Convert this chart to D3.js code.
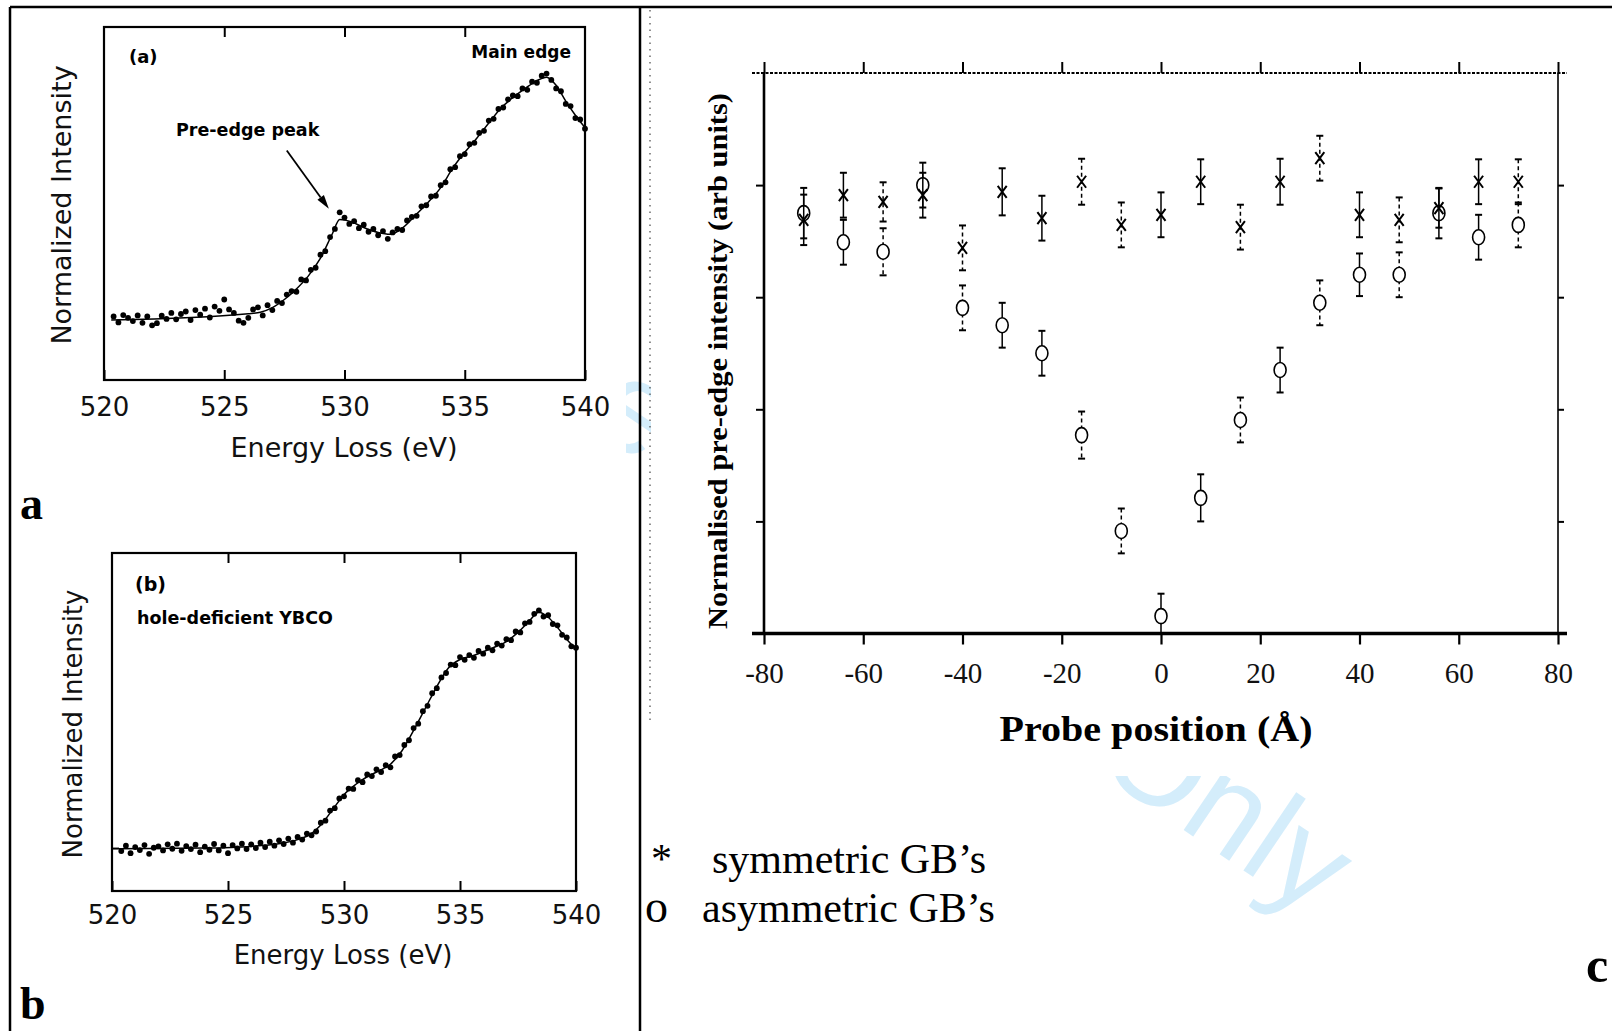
<!DOCTYPE html>
<html>
<head>
<meta charset="utf-8">
<script src="https://cdn.jsdelivr.net/npm/d3@7"></script>
<style>
  body { margin: 0; background: #fff; }
  svg { display: block; }
</style>
</head>
<body>
<svg id="fig" width="1612" height="1031"></svg>
<script>
// ---- EELS spectra (panels a and b), sampled every 0.2 eV ----
const energy = [
  520.4,520.6,520.8,521.0,521.2,521.4,521.6,521.8,522.0,522.2,
  522.4,522.6,522.8,523.0,523.2,523.4,523.6,523.8,524.0,524.2,
  524.4,524.6,524.8,525.0,525.2,525.4,525.6,525.8,526.0,526.2,
  526.4,526.6,526.8,527.0,527.2,527.4,527.6,527.8,528.0,528.2,
  528.4,528.6,528.8,529.0,529.2,529.4,529.6,529.8,530.0,530.2,
  530.4,530.6,530.8,531.0,531.2,531.4,531.6,531.8,532.0,532.2,
  532.4,532.6,532.8,533.0,533.2,533.4,533.6,533.8,534.0,534.2,
  534.4,534.6,534.8,535.0,535.2,535.4,535.6,535.8,536.0,536.2,
  536.4,536.6,536.8,537.0,537.2,537.4,537.6,537.8,538.0,538.2,
  538.4,538.6,538.8,539.0,539.2,539.4,539.6,539.8,540.0
];
const intensityA = [
  .180,.163,.184,.176,.167,.183,.162,.180,.155,.161,
  .182,.173,.190,.172,.187,.194,.170,.198,.185,.202,
  .177,.208,.196,.228,.200,.190,.168,.162,.176,.200,
  .206,.183,.212,.198,.224,.218,.242,.252,.250,.285,
  .282,.312,.318,.355,.365,.405,.428,.475,.460,.442,
  .450,.430,.440,.420,.428,.410,.422,.400,.418,.428,
  .425,.452,.462,.465,.492,.495,.520,.522,.552,.560,
  .597,.603,.634,.640,.668,.672,.700,.706,.735,.740,
  .768,.772,.795,.806,.804,.826,.822,.845,.842,.862,
  .868,.850,.826,.818,.782,.776,.742,.738,.712
];
const intensityB = [
  .118,.134,.112,.130,.121,.136,.110,.128,.132,.120,
  .138,.125,.140,.119,.133,.124,.137,.115,.131,.122,
  .139,.120,.134,.112,.136,.126,.140,.124,.138,.127,
  .143,.130,.146,.134,.150,.139,.155,.143,.160,.152,
  .170,.165,.176,.202,.208,.238,.245,.274,.280,.303,
  .302,.328,.322,.345,.340,.360,.352,.372,.366,.398,
  .402,.432,.446,.482,.495,.532,.548,.585,.600,.632,
  .645,.670,.668,.692,.684,.698,.690,.710,.702,.720,
  .712,.732,.726,.745,.742,.768,.765,.792,.796,.820,
  .830,.812,.816,.790,.786,.758,.750,.724,.720
];
// smooth fitted curves
const fitEnergyA = [520.3,526,526.5,527,527.5,528,528.5,529,529.5,529.8,530.3,530.8,531.4,531.9,532.4,533,533.5,534,534.5,535,535.5,536,536.5,537,537.5,538,538.4,538.8,539.2,539.6,540];
const fitA = [.170,.188,.192,.205,.228,.258,.295,.345,.415,.455,.448,.432,.418,.413,.430,.470,.505,.545,.600,.645,.685,.728,.770,.800,.825,.848,.858,.835,.790,.750,.715];
const fitEnergyB = [520.3,524,526,527,528,528.6,529,529.5,530,530.5,531,531.5,532,532.5,533,533.5,534,534.5,535,535.5,536,536.5,537,537.5,538,538.4,538.8,539.2,539.6,540];
const fitB = [.125,.127,.132,.138,.152,.170,.195,.240,.285,.315,.338,.355,.375,.415,.475,.540,.605,.660,.685,.695,.708,.722,.738,.765,.800,.825,.810,.780,.745,.715];
const energyTicks = [520, 525, 530, 535, 540];
const energyInnerTicks = [525, 530, 535];
const baselineTickB = [0.127];
const preEdgeArrow = { from: [527.6, 0.65], to: [529.35, 0.485] };

// ---- panel c: pre-edge intensity across the grain boundary ----
const probePos = [-72,-64,-56,-48,-40,-32,-24,-16,-8,0,8,16,24,32,40,48,56,64,72];
const symVal  = [.738,.782,.770,.782,.688,.788,.741,.806,.729,.747,.806,.725,.806,.848,.747,.738,.759,.806,.806];
const symErr  = [.045,.040,.035,.040,.040,.042,.040,.041,.040,.040,.040,.040,.041,.040,.040,.040,.035,.040,.040];
const asymVal = [.750,.698,.681,.800,.581,.550,.500,.354,.183,.031,.242,.381,.470,.590,.640,.640,.750,.707,.729];
const asymErr = [.045,.040,.042,.040,.040,.040,.040,.042,.040,.040,.042,.040,.040,.040,.038,.040,.045,.040,.040];
const dashedBar = [0,0,1,0,1,0,0,1,1,0,0,1,0,1,0,1,0,0,1];
const probeTicks = [-80,-60,-40,-20,0,20,40,60,80];
const intensityTicks = [0.2, 0.4, 0.6, 0.8];

const svg = d3.select("#fig");
const SANS = "DejaVu Sans, sans-serif";
const SERIF = "Liberation Serif, Times New Roman, serif";

// watermark, mostly hidden behind the panel images
svg.append("text")
  .attr("transform", "translate(1314,918) rotate(34)")
  .attr("text-anchor", "end")
  .attr("font-family", "Liberation Sans, Arial, sans-serif")
  .attr("font-size", 130)
  .attr("fill", "#d4edfb")
  .text("For Peer Review Only");

// opaque image areas
[[12, 9, 614, 1022], [651, 9, 961, 767]].forEach(r => {
  svg.append("rect").attr("x", r[0]).attr("y", r[1]).attr("width", r[2]).attr("height", r[3]).attr("fill", "#fff");
});

// frame
svg.append("line").attr("x1", 10).attr("x2", 1612).attr("y1", 7).attr("y2", 7).attr("stroke", "#000").attr("stroke-width", 2.5);
svg.append("line").attr("x1", 10).attr("x2", 10).attr("y1", 7).attr("y2", 1031).attr("stroke", "#000").attr("stroke-width", 2.5);
svg.append("line").attr("x1", 640).attr("x2", 640).attr("y1", 7).attr("y2", 1031).attr("stroke", "#000").attr("stroke-width", 2.5);
svg.append("line").attr("x1", 650).attr("x2", 650).attr("y1", 10).attr("y2", 722)
  .attr("stroke", "#555").attr("stroke-width", 1.3).attr("stroke-dasharray", "1.5,5");

// ---------- spectrum panels ----------
function spectrumPanel(x, y, vals, fitE, fitV, leftTicks, pad) {
  const g = svg.append("g");
  const [x0, x1] = x.range();
  const [yb, yt] = y.range();

  const bottom = g.append("g").attr("transform", `translate(0,${yb})`)
    .call(d3.axisBottom(x).tickValues(energyTicks).tickSizeInner(-10).tickSizeOuter(0)
      .tickPadding(pad).tickFormat(d3.format("d")));
  bottom.select(".domain").remove();
  bottom.selectAll("line").attr("stroke-width", 2);
  bottom.selectAll("text").attr("font-family", SANS).attr("font-size", 26).attr("fill", "#111");

  const top = g.append("g").attr("transform", `translate(0,${yt})`)
    .call(d3.axisTop(x).tickValues(energyInnerTicks).tickSizeInner(-10).tickSizeOuter(0).tickFormat(""));
  top.select(".domain").remove();
  top.selectAll("line").attr("stroke-width", 2);

  if (leftTicks) {
    const left = g.append("g").attr("transform", `translate(${x0},0)`)
      .call(d3.axisLeft(y).tickValues(leftTicks).tickSizeInner(-7).tickSizeOuter(0).tickFormat(""));
    left.select(".domain").remove();
    left.selectAll("line").attr("stroke-width", 2);
  }

  g.append("rect").attr("x", x0).attr("y", yt).attr("width", x1 - x0).attr("height", yb - yt)
    .attr("fill", "none").attr("stroke", "#000").attr("stroke-width", 2.2);

  const line = d3.line().x((d, i) => x(fitE[i])).y(d => y(d)).curve(d3.curveMonotoneX);
  g.append("path").datum(fitV).attr("d", line).attr("fill", "none").attr("stroke", "#000").attr("stroke-width", 1.5);

  g.append("g").selectAll("circle")
    .data(energy.map((e, i) => [e, vals[i]]).filter(d => d[1] != null))
    .join("circle")
    .attr("cx", d => x(d[0])).attr("cy", d => y(d[1])).attr("r", 2.9).attr("fill", "#000");
  return g;
}

// panel a
const xA = d3.scaleLinear().domain([520, 540]).range([104, 585]);
const yA = d3.scaleLinear().domain([0, 1]).range([380, 27]);
const gA = spectrumPanel(xA, yA, intensityA, fitEnergyA, fitA, null, 18);
gA.append("text").attr("x", 129).attr("y", 63).attr("font-family", SANS).attr("font-weight", "bold")
  .attr("font-size", 18).text("(a)");
gA.append("text").attr("x", 571).attr("y", 58).attr("text-anchor", "end").attr("font-family", SANS)
  .attr("font-weight", "bold").attr("font-size", 17).text("Main edge");
gA.append("text").attr("x", 176).attr("y", 136).attr("font-family", SANS).attr("font-weight", "bold")
  .attr("font-size", 17.5).text("Pre-edge peak");
{
  const p0 = [xA(preEdgeArrow.from[0]), yA(preEdgeArrow.from[1])];
  const p1 = [xA(preEdgeArrow.to[0]), yA(preEdgeArrow.to[1])];
  const ang = Math.atan2(p1[1] - p0[1], p1[0] - p0[0]);
  const L = 14, W = 4;
  const bx = p1[0] - L * Math.cos(ang), by = p1[1] - L * Math.sin(ang);
  gA.append("line").attr("x1", p0[0]).attr("y1", p0[1]).attr("x2", bx).attr("y2", by)
    .attr("stroke", "#000").attr("stroke-width", 1.8);
  gA.append("path").attr("fill", "#000").attr("d",
    `M${p1[0]},${p1[1]}L${bx + W * Math.sin(ang)},${by - W * Math.cos(ang)}L${bx - W * Math.sin(ang)},${by + W * Math.cos(ang)}Z`);
}
gA.append("text").attr("x", 344).attr("y", 457).attr("text-anchor", "middle").attr("font-family", SANS)
  .attr("font-size", 27).attr("fill", "#111").text("Energy Loss (eV)");
gA.append("text").attr("transform", "translate(71,205) rotate(-90)").attr("text-anchor", "middle")
  .attr("font-family", SANS).attr("font-size", 27).attr("fill", "#111").text("Normalized Intensity");

// panel b
const xB = d3.scaleLinear().domain([520, 540]).range([112, 576]);
const yB = d3.scaleLinear().domain([0, 1]).range([891, 553]);
const gB = spectrumPanel(xB, yB, intensityB, fitEnergyB, fitB, baselineTickB, 15);
gB.append("text").attr("x", 135).attr("y", 591).attr("font-family", SANS).attr("font-weight", "bold")
  .attr("font-size", 19).text("(b)");
gB.append("text").attr("x", 137).attr("y", 624).attr("font-family", SANS).attr("font-weight", "bold")
  .attr("font-size", 17.5).text("hole-deficient YBCO");
gB.append("text").attr("x", 343).attr("y", 964).attr("text-anchor", "middle").attr("font-family", SANS)
  .attr("font-size", 26).attr("fill", "#111").text("Energy Loss (eV)");
gB.append("text").attr("transform", "translate(82,724) rotate(-90)").attr("text-anchor", "middle")
  .attr("font-family", SANS).attr("font-size", 26).attr("fill", "#111").text("Normalized Intensity");

// panel letters
[["a", 20, 519], ["b", 20, 1019]].forEach(t => {
  svg.append("text").attr("x", t[1]).attr("y", t[2]).attr("font-family", SERIF).attr("font-weight", "bold")
    .attr("font-size", 46).text(t[0]);
});
svg.append("text").attr("x", 1586).attr("y", 982).attr("font-family", SERIF).attr("font-weight", "bold")
  .attr("font-size", 50).text("c");

// ---------- panel c ----------
const xC = d3.scaleLinear().domain([-80, 80]).range([764, 1558]);
const yC = d3.scaleLinear().domain([0, 1]).range([633.5, 73]);
const gC = svg.append("g");

const axB = gC.append("g").attr("transform", `translate(0,${yC(0)})`)
  .call(d3.axisBottom(xC).tickValues(probeTicks).tickSize(11).tickPadding(18).tickFormat(d => String(d)));
axB.select(".domain").remove();
axB.selectAll("line").attr("stroke-width", 2.2);
axB.selectAll("text").attr("font-family", SERIF).attr("font-size", 29).attr("fill", "#111");

const axT = gC.append("g").attr("transform", `translate(0,${yC(1)})`)
  .call(d3.axisTop(xC).tickValues(probeTicks).tickSize(11).tickFormat(""));
axT.select(".domain").remove();
axT.selectAll("line").attr("stroke-width", 2);

const axL = gC.append("g").attr("transform", `translate(${xC(-80)},0)`)
  .call(d3.axisLeft(yC).tickValues(intensityTicks).tickSize(8).tickFormat(""));
axL.select(".domain").remove();
axL.selectAll("line").attr("stroke-width", 2);

const axR = gC.append("g").attr("transform", `translate(${xC(80)},0)`)
  .call(d3.axisRight(yC).tickValues(intensityTicks).tickSize(6).tickFormat(""));
axR.select(".domain").remove();
axR.selectAll("line").attr("stroke-width", 2);

gC.append("line").attr("x1", xC(-80) - 12).attr("x2", xC(80) + 9).attr("y1", yC(0)).attr("y2", yC(0))
  .attr("stroke", "#000").attr("stroke-width", 3.5);
gC.append("line").attr("x1", xC(-80) - 12).attr("x2", xC(80) + 9).attr("y1", yC(1)).attr("y2", yC(1))
  .attr("stroke", "#000").attr("stroke-width", 2.2).attr("stroke-dasharray", "3,1.5");
gC.append("line").attr("x1", xC(-80)).attr("x2", xC(-80)).attr("y1", yC(1)).attr("y2", yC(0))
  .attr("stroke", "#000").attr("stroke-width", 2.6);
gC.append("line").attr("x1", xC(80)).attr("x2", xC(80)).attr("y1", yC(1)).attr("y2", yC(0))
  .attr("stroke", "#000").attr("stroke-width", 1.6);

function errorBars(vals, errs) {
  const gg = gC.append("g").attr("stroke", "#000").attr("stroke-width", 1.5);
  probePos.forEach((p, i) => {
    const cx = xC(p);
    const lo = Math.min(yC(vals[i] - errs[i]), yC(0)), hi = yC(vals[i] + errs[i]);
    const dash = dashedBar[i] ? "4,3" : null;
    gg.append("line").attr("x1", cx).attr("x2", cx).attr("y1", hi).attr("y2", lo).attr("stroke-dasharray", dash);
    gg.append("line").attr("x1", cx - 3.5).attr("x2", cx + 3.5).attr("y1", hi).attr("y2", hi).attr("stroke-width", 2);
    gg.append("line").attr("x1", cx - 3.5).attr("x2", cx + 3.5).attr("y1", lo).attr("y2", lo).attr("stroke-width", 2);
  });
}

// asymmetric GBs (open circles)
errorBars(asymVal, asymErr);
gC.append("g").selectAll("ellipse").data(probePos.map((p, i) => [p, asymVal[i]])).join("ellipse")
  .attr("cx", d => xC(d[0])).attr("cy", d => yC(d[1])).attr("rx", 6).attr("ry", 7.5)
  .attr("fill", "#fff").attr("stroke", "#000").attr("stroke-width", 1.6);

// symmetric GBs (crosses)
errorBars(symVal, symErr);
gC.append("g").selectAll("path").data(probePos.map((p, i) => [p, symVal[i]])).join("path")
  .attr("transform", d => `translate(${xC(d[0])},${yC(d[1])})`)
  .attr("d", "M-4.5,-6L4.5,6M-4.5,6L4.5,-6")
  .attr("stroke", "#000").attr("stroke-width", 2).attr("fill", "none");

gC.append("text").attr("x", 1156).attr("y", 741).attr("text-anchor", "middle").attr("font-family", SERIF)
  .attr("font-weight", "bold").attr("font-size", 36).attr("textLength", 313).attr("lengthAdjust", "spacingAndGlyphs")
  .text("Probe position (Å)");
gC.append("text").attr("transform", "translate(727,361) rotate(-90)").attr("text-anchor", "middle")
  .attr("font-family", SERIF).attr("font-weight", "bold").attr("font-size", 28)
  .attr("textLength", 536).attr("lengthAdjust", "spacingAndGlyphs")
  .text("Normalised pre-edge intensity (arb units)");

// legend
const legend = svg.append("g").attr("font-family", SERIF).attr("fill", "#000");
legend.append("text").attr("x", 651).attr("y", 873).attr("font-size", 42).text("*");
legend.append("text").attr("x", 712).attr("y", 873).attr("font-size", 42).text("symmetric GB’s");
legend.append("text").attr("x", 645).attr("y", 922).attr("font-size", 46).text("o");
legend.append("text").attr("x", 702).attr("y", 922).attr("font-size", 42).text("asymmetric GB’s");
</script>
</body>
</html>
